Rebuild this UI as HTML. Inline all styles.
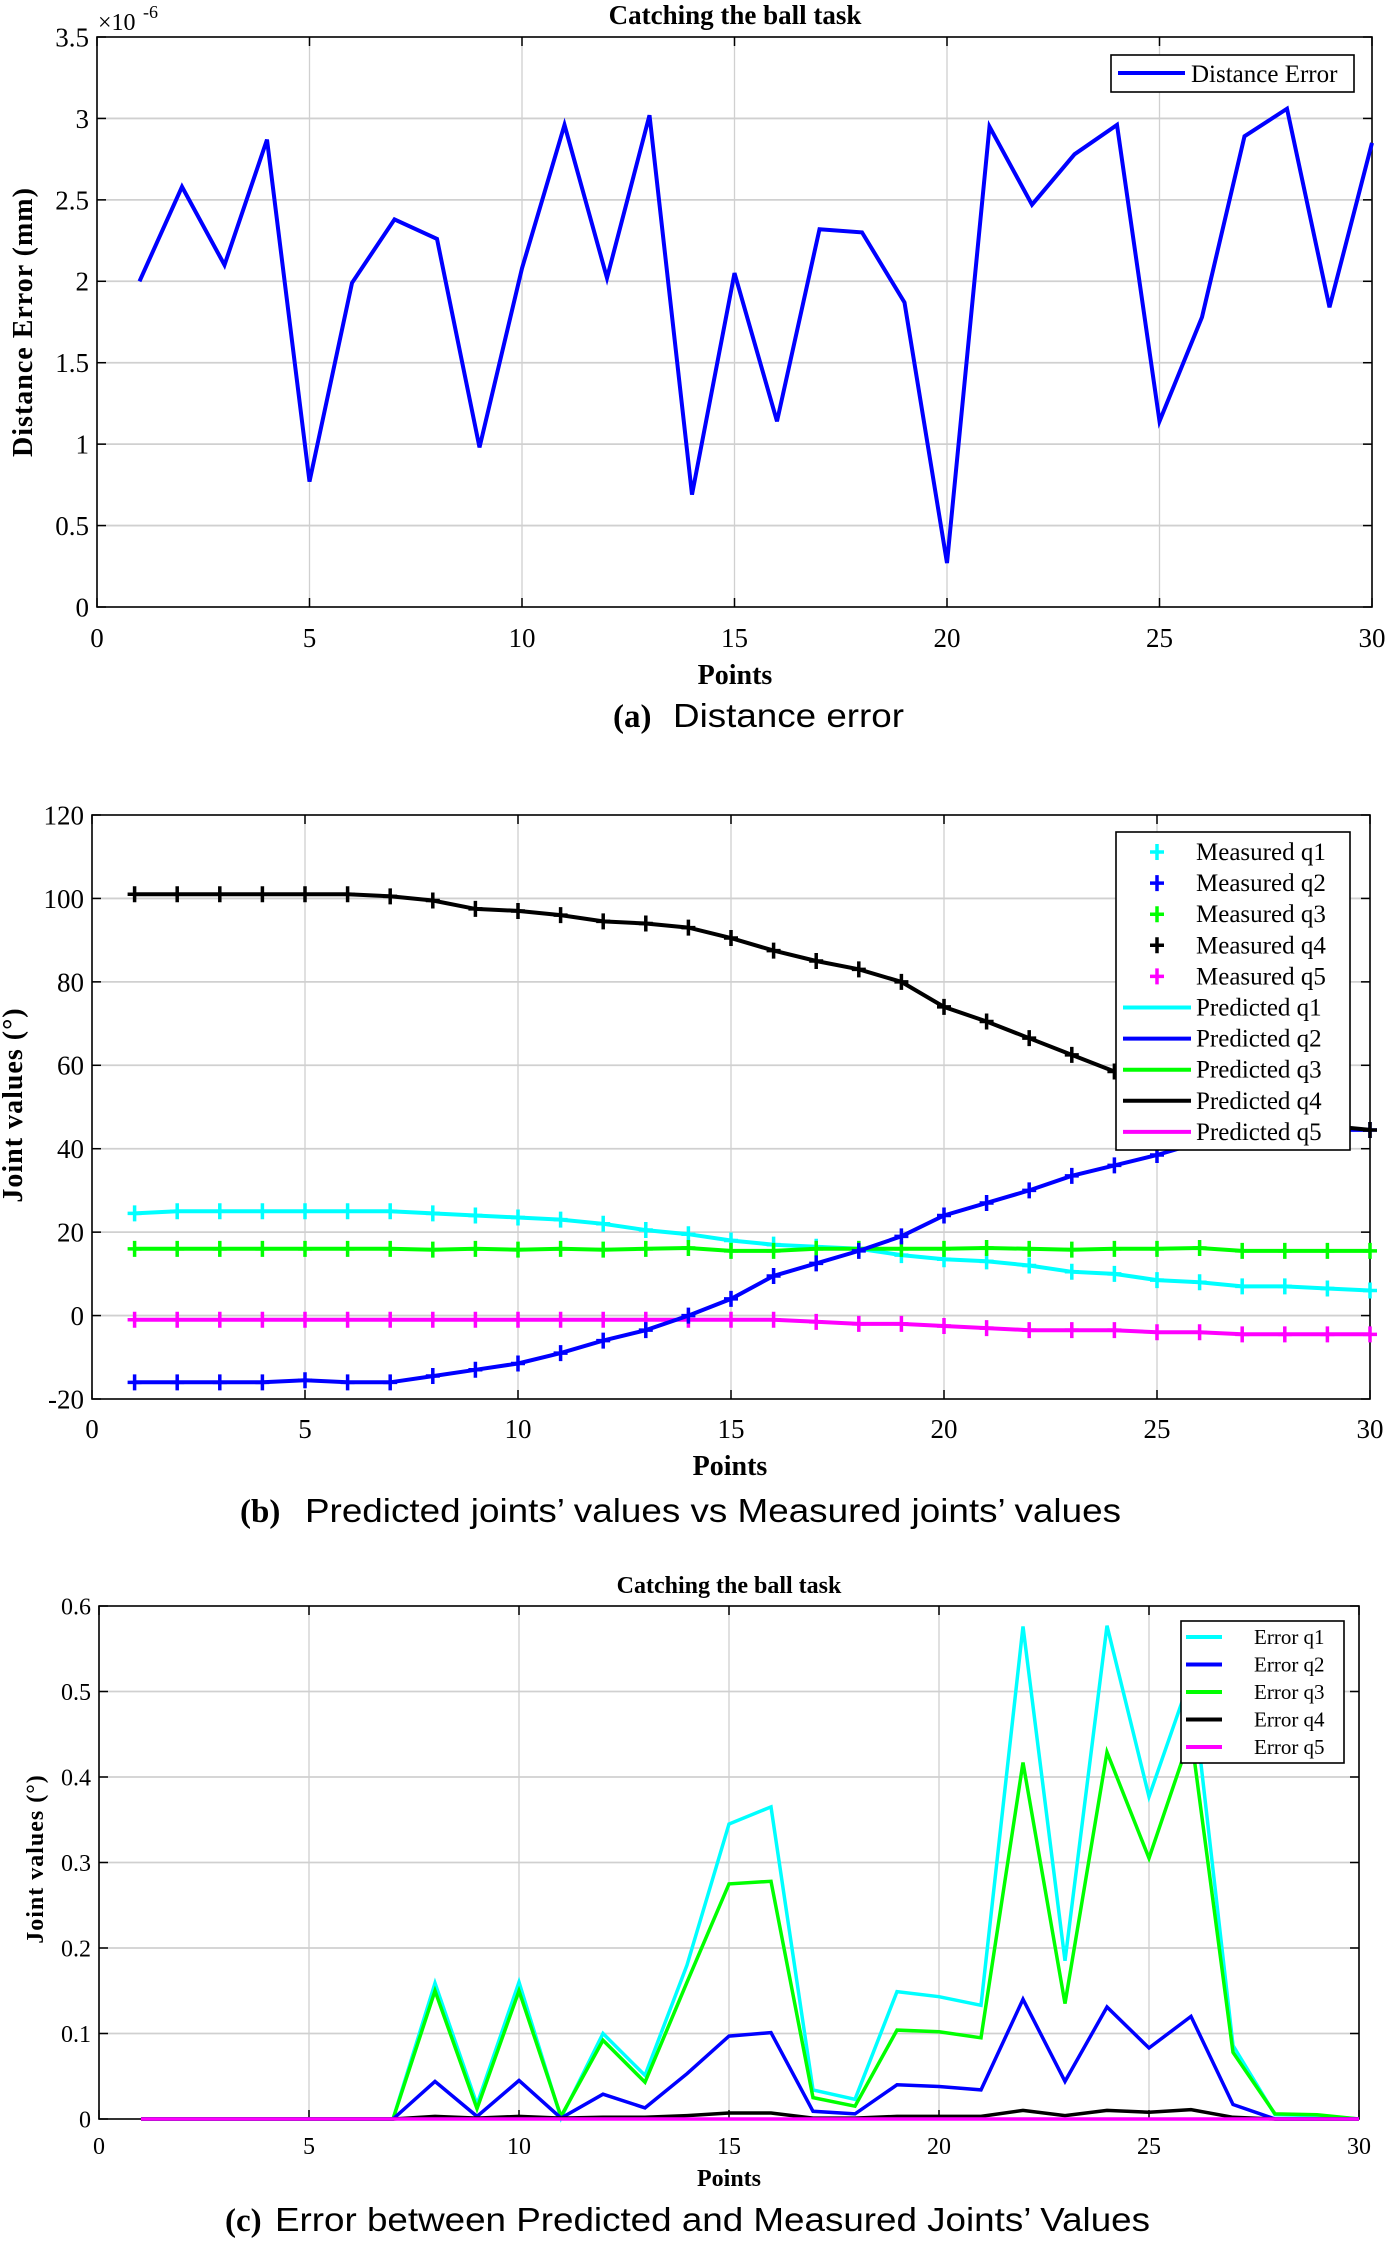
<!DOCTYPE html>
<html><head><meta charset="utf-8">
<style>
html,body{margin:0;padding:0;background:#fff;}
svg{display:block;}
text{font-family:"Liberation Serif",serif;fill:#000;}
.cap{font-family:"Liberation Sans",sans-serif;}
</style></head>
<body>
<svg id="fig" width="1386" height="2245" viewBox="0 0 1386 2245" xmlns="http://www.w3.org/2000/svg"></svg>
<script>
// ---------- data ----------
const points = [1,2,3,4,5,6,7,8,9,10,11,12,13,14,15,16,17,18,19,20,21,22,23,24,25,26,27,28,29,30];
const distErr = [2.0,2.58,2.10,2.87,0.77,1.99,2.38,2.26,0.98,2.08,2.96,2.02,3.02,0.69,2.05,1.14,2.32,2.30,1.87,0.27,2.95,2.47,2.78,2.96,1.14,1.78,2.89,3.06,1.84,2.85];
const q1 = [24.5,25,25,25,25,25,25,24.5,24,23.5,23,22,20.5,19.5,18,17,16.5,16,14.5,13.5,13,12,10.5,10,8.5,8,7,7,6.5,6];
const q2 = [-16,-16,-16,-16,-15.5,-16,-16,-14.5,-13,-11.5,-9,-6,-3.5,0,4,9.5,12.5,15.5,19,24,27,30,33.5,36,38.5,41.5,43.5,44,44.5,44.5];
const q3 = [16,16,16,16,16,16,16,15.8,16,15.8,16,15.8,16,16.2,15.5,15.5,16,16,16,16,16.2,16,15.8,16,16,16.2,15.5,15.5,15.5,15.5];
const q4 = [101,101,101,101,101,101,100.5,99.5,97.5,97,96,94.5,94,93,90.5,87.5,85,83,80,74,70.5,66.5,62.5,58.5,55,52,49,47,45.5,44.5];
const q5 = [-1,-1,-1,-1,-1,-1,-1,-1,-1,-1,-1,-1,-1,-1,-1,-1,-1.5,-2,-2,-2.5,-3,-3.5,-3.5,-3.5,-4,-4,-4.5,-4.5,-4.5,-4.5];
const e1 = [0,0,0,0,0,0,0,0.159,0.017,0.16,0.001,0.10,0.051,0.18,0.345,0.365,0.034,0.023,0.149,0.143,0.133,0.576,0.185,0.577,0.377,0.518,0.086,0.005,0.004,0];
const e2 = [0,0,0,0,0,0,0,0.044,0.003,0.045,0.001,0.029,0.013,0.053,0.097,0.101,0.009,0.006,0.04,0.038,0.034,0.14,0.044,0.131,0.083,0.12,0.017,0,0,0];
const e3 = [0,0,0,0,0,0,0,0.15,0.012,0.15,0.003,0.092,0.043,0.16,0.275,0.278,0.025,0.015,0.104,0.102,0.095,0.417,0.135,0.429,0.305,0.45,0.078,0.006,0.005,0];
const e4 = [0,0,0,0,0,0,0,0.003,0.001,0.003,0.001,0.002,0.002,0.004,0.007,0.007,0.001,0.001,0.003,0.003,0.003,0.01,0.004,0.01,0.008,0.011,0.002,0,0,0];
const e5 = [0,0,0,0,0,0,0,0,0,0,0,0,0,0,0,0,0,0,0,0,0,0,0,0,0,0,0,0,0,0];
const xTicks = [0,5,10,15,20,25,30];
const yTicksA = [0,0.5,1,1.5,2,2.5,3,3.5];
const yTicksB = [-20,0,20,40,60,80,100,120];
const yTicksC = [0,0.1,0.2,0.3,0.4,0.5,0.6];

const NS="http://www.w3.org/2000/svg";
const svg=document.getElementById('fig');
function mk(tag,attrs,parent){const e=document.createElementNS(NS,tag);for(const k in attrs)e.setAttribute(k,attrs[k]);(parent||svg).appendChild(e);return e;}
function txt(s,x,y,size,opts,parent){const t=mk('text',Object.assign({x:x,y:y,'font-size':size},opts||{}),parent);t.textContent=s;return t;}

function axes(cfg){
  const g=mk('g',{});
  
  
  const sx=v=>cfg.L+(v-cfg.x0)/(cfg.x1-cfg.x0)*(cfg.R-cfg.L);
  const sy=v=>cfg.B-(v-cfg.y0)/(cfg.y1-cfg.y0)*(cfg.B-cfg.T);
  xTicks.forEach(v=>{if(v>cfg.x0&&v<cfg.x1){const l=mk('line',{x1:sx(v),x2:sx(v),y1:cfg.T,y2:cfg.B,stroke:'#d0d0d0','stroke-width':1.3},g);
    
    }});
  cfg.yt.forEach(v=>{if(v>cfg.y0&&v<cfg.y1){const l=mk('line',{x1:cfg.L,x2:cfg.R,y1:sy(v),y2:sy(v),stroke:'#d0d0d0','stroke-width':1.8},g);
    
    }});
  const box=mk('rect',{x:cfg.L,y:cfg.T,width:cfg.R-cfg.L,height:cfg.B-cfg.T,fill:'none',stroke:'#000','stroke-width':1.6},g);
  
  
  xTicks.forEach(v=>{
    mk('line',{x1:sx(v),x2:sx(v),y1:cfg.B,y2:cfg.B-9,stroke:'#000','stroke-width':1.5},g);
    mk('line',{x1:sx(v),x2:sx(v),y1:cfg.T,y2:cfg.T+9,stroke:'#000','stroke-width':1.5},g);
    const t=txt(String(v),sx(v),cfg.xlY,cfg.fs,{'text-anchor':'middle'},g);
    
    
  });
  cfg.yt.forEach(v=>{
    mk('line',{x1:cfg.L,x2:cfg.L+9,y1:sy(v),y2:sy(v),stroke:'#000','stroke-width':1.5},g);
    mk('line',{x1:cfg.R,x2:cfg.R-9,y1:sy(v),y2:sy(v),stroke:'#000','stroke-width':1.5},g);
    const t=txt(String(v),cfg.L-8,sy(v)+cfg.fs*0.35,cfg.fs,{'text-anchor':'end'},g);
    
    
  });
  return {g,sx,sy};
}
function series(ax,vals,color,w,name,markers){
  const d=vals.map((v,i)=>(i?'L':'M')+ax.sx(points[i]).toFixed(1)+','+ax.sy(v).toFixed(1)).join(' ');
  const p=mk('path',{d:d,fill:'none',stroke:color,'stroke-width':w,'stroke-linejoin':'miter'},ax.g);
  
  
  if(markers){vals.forEach((v,i)=>{const x=ax.sx(points[i]),y=ax.sy(v);
    const m=mk('path',{d:`M${x-7},${y}H${x+7}M${x},${y-8}V${y+8}`,stroke:color,'stroke-width':3.5,fill:'none'},ax.g);
    
    });}
}

// ----- Chart A -----
const A=axes({name:'chart-distance-error',L:97,R:1372,T:37,B:607,x0:0,x1:30,y0:0,y1:3.5,yt:yTicksA,fs:27,xlY:647});
series(A,distErr,'#0000ff',4,'distance-error-line');
let t;
t=txt('Catching the ball task',735,24,27,{'text-anchor':'middle','font-weight':'bold'});

t=txt('×10',98,30,24,{});

txt('-6',143,18,18,{});
t=txt('Points',735,684,28,{'text-anchor':'middle','font-weight':'bold'});

t=txt('Distance Error (mm)',0,0,28,{'text-anchor':'middle','font-weight':'bold',transform:'translate(32,322) rotate(-90)','letter-spacing':'1'});

t=txt('(a)',613,727,33,{'font-weight':'bold'});
t=txt('Distance error',673,727,33,{class:'cap',textLength:231,lengthAdjust:'spacingAndGlyphs'});

let lg=mk('g',{});

mk('rect',{x:1111,y:55,width:243,height:37,fill:'#fff',stroke:'#000','stroke-width':1.6},lg);
mk('line',{x1:1118,x2:1185,y1:73,y2:73,stroke:'#0000ff','stroke-width':4},lg);
txt('Distance Error',1191,82,25,{},lg);

// ----- Chart B -----
const B=axes({name:'chart-joint-values',L:92,R:1370,T:815,B:1399,x0:0,x1:30,y0:-20,y1:120,yt:yTicksB,fs:27,xlY:1438});
series(B,q1,'#00ffff',4,'predicted-q1-line','measured-q1-marker');
series(B,q3,'#00ff00',4,'predicted-q3-line','measured-q3-marker');
series(B,q5,'#ff00ff',4,'predicted-q5-line','measured-q5-marker');
series(B,q2,'#0000ff',4,'predicted-q2-line','measured-q2-marker');
series(B,q4,'#000000',4,'predicted-q4-line','measured-q4-marker');
t=txt('Points',730,1475,28,{'text-anchor':'middle','font-weight':'bold'});

t=txt('Joint values (°)',0,0,28,{'text-anchor':'middle','font-weight':'bold',transform:'translate(22,1105) rotate(-90)','letter-spacing':'1'});

txt('(b)',240,1522,33,{'font-weight':'bold'});
t=txt('Predicted joints’ values vs Measured joints’ values',305,1522,33,{class:'cap',textLength:816,lengthAdjust:'spacingAndGlyphs'});

lg=mk('g',{});

mk('rect',{x:1116,y:832,width:234,height:318,fill:'#fff',stroke:'#000','stroke-width':1.6},lg);
const legB=[['Measured  q1','#00ffff',1],['Measured q2','#0000ff',1],['Measured q3','#00ff00',1],['Measured q4','#000000',1],['Measured q5','#ff00ff',1],['Predicted q1','#00ffff',0],['Predicted q2','#0000ff',0],['Predicted q3','#00ff00',0],['Predicted q4','#000000',0],['Predicted q5','#ff00ff',0]];
legB.forEach((e,i)=>{const y=852+i*31.1;
  if(e[2]){const x=1157;mk('path',{d:`M${x-7},${y}H${x+7}M${x},${y-8}V${y+8}`,stroke:e[1],'stroke-width':3.5},lg);}
  else mk('line',{x1:1123,x2:1191,y1:y,y2:y,stroke:e[1],'stroke-width':4},lg);
  txt(e[0],1196,y+8,25,{},lg);});

// ----- Chart C -----
const C=axes({name:'chart-joint-errors',L:99,R:1359,T:1606,B:2119,x0:0,x1:30,y0:0,y1:0.6,yt:yTicksC,fs:24,xlY:2154});
series(C,e1,'#00ffff',3.5,'error-q1-line');
series(C,e3,'#00ff00',3.5,'error-q3-line');
series(C,e2,'#0000ff',3.5,'error-q2-line');
series(C,e4,'#000000',3.5,'error-q4-line');
series(C,e5,'#ff00ff',3.5,'error-q5-line');
t=txt('Catching the ball task',729,1593,24,{'text-anchor':'middle','font-weight':'bold'});

t=txt('Points',729,2186,24,{'text-anchor':'middle','font-weight':'bold'});

t=txt('Joint values (°)',0,0,24,{'text-anchor':'middle','font-weight':'bold',transform:'translate(43,1859) rotate(-90)','letter-spacing':'1'});

txt('(c)',225,2231,33,{'font-weight':'bold'});
t=txt('Error between Predicted and Measured Joints’ Values',275,2231,33,{class:'cap',textLength:875,lengthAdjust:'spacingAndGlyphs'});

lg=mk('g',{});

mk('rect',{x:1181,y:1621,width:163,height:142,fill:'#fff',stroke:'#000','stroke-width':1.6},lg);
const legC=[['Error q1','#00ffff'],['Error q2','#0000ff'],['Error q3','#00ff00'],['Error q4','#000000'],['Error q5','#ff00ff']];
legC.forEach((e,i)=>{const y=1637+i*27.5;
  mk('line',{x1:1186,x2:1222,y1:y,y2:y,stroke:e[1],'stroke-width':4},lg);
  txt(e[0],1254,y+7,21,{},lg);});
</script>
</body></html>
